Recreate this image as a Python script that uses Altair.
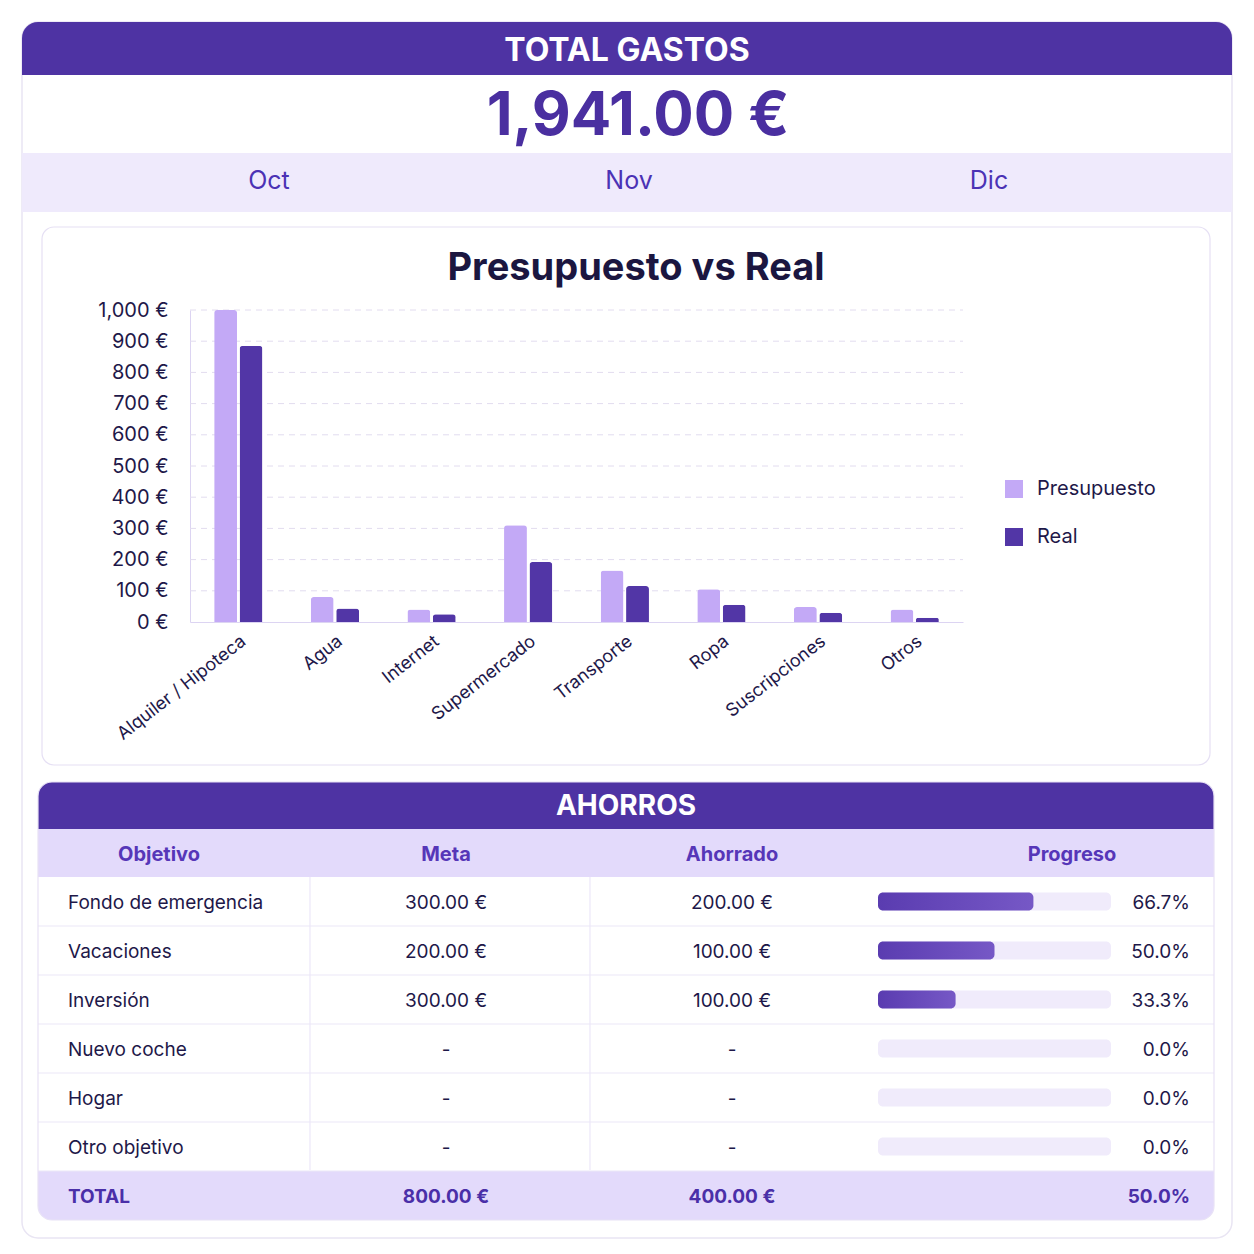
import altair as alt
import pandas as pd

# ---------------- data ----------------
total_gastos = 1941.00
meses = ["Oct", "Nov", "Dic"]

categorias = ["Alquiler / Hipoteca", "Agua", "Internet", "Supermercado",
              "Transporte", "Ropa", "Suscripciones", "Otros"]
presupuesto = [1000, 80, 40, 310, 165, 105, 48, 40]
real = [885, 43, 25, 192, 115, 55, 30, 14]
series = ["Presupuesto", "Real"]
y_ticks = [0, 100, 200, 300, 400, 500, 600, 700, 800, 900, 1000]

objetivos = ["Fondo de emergencia", "Vacaciones", "Inversión",
             "Nuevo coche", "Hogar", "Otro objetivo"]
meta = [300.0, 200.0, 300.0, None, None, None]
ahorrado = [200.0, 100.0, 100.0, None, None, None]
progreso = [66.7, 50.0, 33.3, 0.0, 0.0, 0.0]
total_meta = 800.0
total_ahorrado = 400.0
total_progreso = 50.0
columnas = ["Objetivo", "Meta", "Ahorrado", "Progreso"]

# ---------------- style ----------------
FONT = "Inter"
PURPLE = "#4E33A3"
NUM = "#4A2FA0"
LAV = "#EFEAFC"
LAV2 = "#E3DAFB"
TXT = "#1E1849"
P_COL = "#C3A9F6"
R_COL = "#5236A6"
HEAD_TXT = "#5636B8"
W = 1210

one = pd.DataFrame({"k": [0]})


def eur(v):
    return "-" if v is None else f"{v:,.2f} €"


# ---------------- section A: header ----------------
card = alt.Chart(one).mark_rect(fill="white", stroke="#E9E5F3", strokeWidth=1.5, cornerRadius=16).encode(
    x=alt.value(0), x2=alt.value(W), y=alt.value(0), y2=alt.value(1216))
hdr = alt.Chart(one).mark_rect(fill=PURPLE, cornerRadiusTopLeft=16, cornerRadiusTopRight=16).encode(
    x=alt.value(0), x2=alt.value(W), y=alt.value(0), y2=alt.value(53))
hdr_txt = alt.Chart(one).mark_text(text="TOTAL GASTOS", font=FONT, fontSize=32, fontWeight="bold",
                                   color="white", baseline="middle").encode(
    x=alt.value(605), y=alt.value(29))
num = alt.Chart(pd.DataFrame({"total": [total_gastos]})).transform_calculate(
    label="format(datum.total, ',.2f') + ' €'"
).mark_text(font=FONT, fontSize=60, fontWeight="bold", color=NUM, baseline="middle").encode(
    text="label:N", x=alt.value(616), y=alt.value(95))
band = alt.Chart(one).mark_rect(fill=LAV).encode(
    x=alt.value(0), x2=alt.value(W), y=alt.value(131), y2=alt.value(190))
months = alt.Chart(pd.DataFrame({"mes": meses})).mark_text(
    font=FONT, fontSize=25, color="#4B32B5", baseline="middle").encode(
    x=alt.X("mes:N", sort=meses, scale=alt.Scale(type="point", range=[247, 967], padding=0), axis=None),
    y=alt.value(159), text="mes:N")
A = alt.layer(card, hdr, hdr_txt, num, band, months).properties(width=W, height=188)

# ---------------- section B: bar chart ----------------
df_bars = pd.DataFrame({
    "Categoria": categorias * 2,
    "Serie": [series[0]] * len(categorias) + [series[1]] * len(categorias),
    "Valor": presupuesto + real,
})
yscale = alt.Scale(domain=[0, 1000], range=[412, 100], nice=False)
b_card = alt.Chart(one).mark_rect(fill="transparent", stroke="#E6E0F4", strokeWidth=1.2, cornerRadius=12).encode(
    x=alt.value(20), x2=alt.value(1188), y=alt.value(17), y2=alt.value(555))
b_title = alt.Chart(one).mark_text(text="Presupuesto vs Real", font=FONT, fontSize=38, fontWeight="bold",
                                   color="#1B1640", baseline="middle").encode(
    x=alt.value(614), y=alt.value(59))
grid = alt.Chart(pd.DataFrame({"Valor": y_ticks[1:]})).mark_rule(
    color="#E2DCEF", strokeDash=[6, 5], strokeWidth=1).encode(
    y=alt.Y("Valor:Q", scale=yscale), x=alt.value(168), x2=alt.value(941))
bars = alt.Chart(df_bars).mark_bar(cornerRadiusTopLeft=3, cornerRadiusTopRight=3).encode(
    x=alt.X("Categoria:N", sort=categorias,
            scale=alt.Scale(range=[168, 941], paddingInner=0.5, paddingOuter=0.25),
            axis=alt.Axis(title=None, labelAngle=-38, labelFontSize=18, labelColor=TXT, labelFont=FONT,
                          ticks=False, domainColor="#DCD4F2", offset=-160, labelPadding=10,
                          grid=False, labelLimit=300)),
    xOffset=alt.XOffset("Serie:N", sort=series, scale=alt.Scale(paddingInner=0.1, paddingOuter=0)),
    y=alt.Y("Valor:Q", scale=yscale,
            axis=alt.Axis(title=None, values=y_ticks, labelExpr="format(datum.value, ',') + ' €'",
                          ticks=False, domainColor="#DCD4F2", offset=-168, labelPadding=22,
                          labelFontSize=20, labelColor=TXT, labelFont=FONT, grid=False)),
    color=alt.Color("Serie:N", sort=series, scale=alt.Scale(domain=series, range=[P_COL, R_COL]),
                    legend=alt.Legend(title=None, orient="none", legendX=982, legendY=269,
                                      symbolType="square", symbolSize=324, labelFontSize=20,
                                      labelFont=FONT, labelColor=TXT, rowPadding=28, labelOffset=13,
                                      symbolStrokeWidth=0, symbolOpacity=1)),
)
B = alt.layer(b_card, grid, bars, b_title).properties(width=W, height=572)

# ---------------- section C: table ----------------
filas = objetivos + ["TOTAL"]
df_tab = pd.DataFrame({
    "fila": objetivos,
    "meta_txt": [eur(v) for v in meta],
    "ahorrado_txt": [eur(v) for v in ahorrado],
    "progreso": progreso,
})
df_tot = pd.DataFrame({
    "fila": ["TOTAL"],
    "meta_txt": [eur(total_meta)],
    "ahorrado_txt": [eur(total_ahorrado)],
    "progreso": [total_progreso],
})
yrow = alt.Y("fila:N", sort=filas, scale=alt.Scale(range=[95, 438], paddingInner=0, paddingOuter=0), axis=None)
xprog = alt.Scale(domain=[0, 100], range=[856, 1089], nice=False, zero=True)

c_hdr = alt.Chart(one).mark_rect(fill=PURPLE, cornerRadiusTopLeft=14, cornerRadiusTopRight=14).encode(
    x=alt.value(16), x2=alt.value(1192), y=alt.value(0), y2=alt.value(47))
c_hdr_txt = alt.Chart(one).mark_text(text="AHORROS", font=FONT, fontSize=28, fontWeight="bold",
                                     color="white", baseline="middle").encode(
    x=alt.value(604), y=alt.value(25))
c_colband = alt.Chart(one).mark_rect(fill=LAV2).encode(
    x=alt.value(16), x2=alt.value(1192), y=alt.value(47), y2=alt.value(95))
col_x = [137, 424, 710, 1050]
col_layers = [
    alt.Chart(one).mark_text(text=c, font=FONT, fontSize=20, fontWeight="bold", color=HEAD_TXT,
                             baseline="middle").encode(x=alt.value(xx), y=alt.value(73))
    for c, xx in zip(columnas, col_x)
]
tot_bg = alt.Chart(df_tot).mark_rect(fill=LAV2, cornerRadiusBottomLeft=14, cornerRadiusBottomRight=14).encode(
    y=yrow, x=alt.value(16), x2=alt.value(1192))
outline = alt.Chart(one).mark_rect(fill="transparent", stroke="#E8E2F6", strokeWidth=1.2, cornerRadius=14).encode(
    x=alt.value(16), x2=alt.value(1192), y=alt.value(0), y2=alt.value(438))
seps = alt.Chart(df_tab).mark_rule(color="#ECE7F8", strokeWidth=1.2).encode(
    y=alt.Y("fila:N", sort=filas, bandPosition=1,
            scale=alt.Scale(range=[95, 438], paddingInner=0, paddingOuter=0), axis=None),
    x=alt.value(16), x2=alt.value(1192))
div1 = alt.Chart(one).mark_rule(color="#ECE7F8", strokeWidth=1.2).encode(
    x=alt.value(288), y=alt.value(95), y2=alt.value(388))
div2 = alt.Chart(one).mark_rule(color="#ECE7F8", strokeWidth=1.2).encode(
    x=alt.value(568), y=alt.value(95), y2=alt.value(388))
t_obj = alt.Chart(df_tab).mark_text(font=FONT, fontSize=19, color=TXT, align="left", baseline="middle", dy=1).encode(
    y=yrow, x=alt.value(46), text="fila:N")
t_meta = alt.Chart(df_tab).mark_text(font=FONT, fontSize=19, color=TXT, baseline="middle", dy=1).encode(
    y=yrow, x=alt.value(424), text="meta_txt:N")
t_ah = alt.Chart(df_tab).mark_text(font=FONT, fontSize=19, color=TXT, baseline="middle", dy=1).encode(
    y=yrow, x=alt.value(710), text="ahorrado_txt:N")
track = alt.Chart(df_tab).mark_bar(size=18, cornerRadius=5, color="#F0EBFB").encode(
    y=yrow,
    x=alt.XDatum(0, type="quantitative", scale=xprog, axis=None),
    x2=alt.X2Datum(100))
fill = alt.Chart(df_tab).transform_filter("datum.progreso > 0").mark_bar(
    size=18, cornerRadius=5,
    color=alt.Gradient(gradient="linear", x1=0, x2=1, y1=0, y2=0,
                       stops=[alt.GradientStop(color="#5A3CB0", offset=0),
                              alt.GradientStop(color="#7658C6", offset=1)])).encode(
    y=yrow, x=alt.X("progreso:Q", scale=xprog, axis=None, stack=None))
t_pct = alt.Chart(df_tab).transform_calculate(
    lab="format(datum.progreso, '.1f') + '%'"
).mark_text(font=FONT, fontSize=19, color=TXT, align="right", baseline="middle", dy=1).encode(
    y=yrow, x=alt.value(1168), text="lab:N")
tot_style = dict(font=FONT, fontSize=19, fontWeight="bold", color="#4A2FA8", baseline="middle", dy=1)
tt_lab = alt.Chart(df_tot).mark_text(align="left", **tot_style).encode(y=yrow, x=alt.value(46), text="fila:N")
tt_meta = alt.Chart(df_tot).mark_text(**tot_style).encode(y=yrow, x=alt.value(424), text="meta_txt:N")
tt_ah = alt.Chart(df_tot).mark_text(**tot_style).encode(y=yrow, x=alt.value(710), text="ahorrado_txt:N")
tt_pct = alt.Chart(df_tot).transform_calculate(
    lab="format(datum.progreso, '.1f') + '%'"
).mark_text(align="right", **tot_style).encode(y=yrow, x=alt.value(1168), text="lab:N")

C = alt.layer(c_hdr, c_hdr_txt, c_colband, *col_layers, tot_bg, seps, div1, div2,
              t_obj, t_meta, t_ah, track, fill, t_pct, tt_lab, tt_meta, tt_ah, tt_pct,
              outline).properties(width=W, height=456)

chart = alt.vconcat(A, B, C, spacing=0, bounds="flush").resolve_scale(
    color="independent"
).properties(
    padding={"left": 12, "top": 12, "right": 8, "bottom": 8}
).configure(background="white", font=FONT).configure_view(stroke="transparent")

chart.save("out.html", embed_options={"renderer": "svg", "actions": False})
